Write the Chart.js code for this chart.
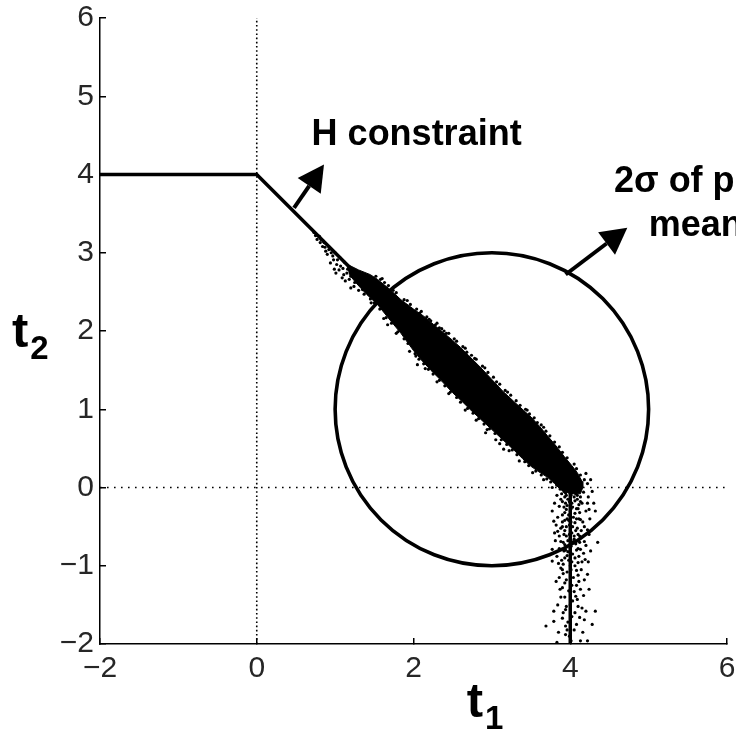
<!DOCTYPE html>
<html>
<head>
<meta charset="utf-8">
<script src="https://cdn.jsdelivr.net/npm/chart.js@4/dist/chart.umd.min.js"></script>
<style>
  html, body { margin: 0; padding: 0; background: #fff; }
  #wrap { width: 736px; height: 729px; }
</style>
</head>
<body>
<div id="wrap"><canvas id="chart"></canvas></div>
<script>
// axes
const t1Ticks = [-2, 0, 2, 4, 6];
const t2Ticks = [-2, -1, 0, 1, 2, 3, 4, 5, 6];

// H constraint boundary
const constraintT1 = [-2, 0, 4, 4];
const constraintT2 = [4, 4, 0, -2];

// prior mean and 2 sigma radius
const priorMean = [3, 1];
const priorRadius = 2;

// outline of the dense part of the sample cloud
const coreOutline = [
  [1.14, 2.86], [1.30, 2.78], [1.45, 2.72], [1.54, 2.66], [1.70, 2.53], [1.84, 2.40],
  [2.00, 2.28], [2.13, 2.19], [2.26, 2.08], [2.38, 1.98], [2.50, 1.88], [2.60, 1.79],
  [2.70, 1.69], [2.85, 1.54], [3.00, 1.38], [3.14, 1.23], [3.28, 1.10], [3.40, 0.99],
  [3.50, 0.90], [3.61, 0.78], [3.71, 0.66], [3.82, 0.53], [3.92, 0.40], [4.02, 0.28],
  [4.09, 0.19], [4.15, 0.08], [4.16, 0.00], [4.13, -0.08],
  [4.00, -0.08], [3.88, -0.03], [3.80, 0.05], [3.71, 0.13], [3.60, 0.20], [3.50, 0.27],
  [3.39, 0.37], [3.28, 0.48], [3.14, 0.61], [3.00, 0.74], [2.86, 0.87], [2.73, 0.99],
  [2.62, 1.10], [2.50, 1.21], [2.36, 1.36], [2.22, 1.50], [2.10, 1.63], [2.00, 1.75],
  [1.84, 1.97], [1.70, 2.14], [1.54, 2.34], [1.40, 2.47], [1.28, 2.60], [1.18, 2.72]
];

// single samples around the dense part
const samples = [
  // start of the cloud, along the constraint
  [0.73, 3.26], [0.77, 3.17], [0.80, 3.21], [0.82, 3.17], [0.84, 3.08], [0.86, 3.13],
  [0.88, 3.02], [0.92, 3.04], [0.94, 2.87], [0.97, 2.96], [0.99, 2.79], [1.01, 2.74],
  [1.03, 2.91], [1.07, 2.83], [1.09, 2.68], [1.11, 2.72], [1.16, 2.79], [1.20, 2.70],
  [1.20, 2.55], [1.24, 2.57], [1.31, 2.64], [1.35, 2.53], [1.41, 2.55], [1.48, 2.45],
  [0.78, 3.22], [0.85, 3.15], [0.92, 3.08], [1.00, 3.00], [1.06, 2.94], [1.12, 2.88],
  [0.75, 3.22], [0.81, 3.13], [0.87, 3.07], [0.90, 2.98], [0.95, 3.00], [0.98, 2.91],
  [1.02, 2.85], [1.05, 2.78], [1.10, 2.80], [1.13, 2.64], [1.15, 2.74], [1.18, 2.66],
  [1.22, 2.73], [1.25, 2.62], [1.28, 2.68], [1.30, 2.52], [1.33, 2.60], [1.37, 2.47],
  [1.39, 2.57], [1.43, 2.50], [1.45, 2.41],
  // upper edge of the band
  [1.60, 2.67], [1.92, 2.39], [2.10, 2.25], [2.30, 2.10], [2.45, 1.97], [2.66, 1.78],
  [2.80, 1.64], [2.95, 1.47], [3.10, 1.32], [3.24, 1.18], [3.45, 0.99], [3.66, 0.77],
  [3.86, 0.52], [4.05, 0.30], [4.18, 0.10], [2.39, 2.00], [2.28, 2.08], [2.22, 2.13],
  [1.52, 2.70], [1.58, 2.66], [1.63, 2.62], [1.68, 2.58], [1.74, 2.52], [1.78, 2.49],
  [1.88, 2.40], [1.96, 2.34], [2.04, 2.28], [2.08, 2.23], [2.17, 2.18], [2.20, 2.15],
  [2.33, 2.04], [2.36, 2.03], [2.42, 1.97], [2.52, 1.90], [2.55, 1.87], [2.63, 1.80],
  [2.68, 1.73], [2.74, 1.69], [2.78, 1.65], [2.88, 1.55], [2.91, 1.53], [3.02, 1.41],
  [3.06, 1.35], [3.17, 1.24], [3.20, 1.22], [3.31, 1.11], [3.36, 1.05], [3.43, 1.00],
  [3.48, 0.94], [3.54, 0.89], [3.63, 0.80], [3.69, 0.72], [3.74, 0.66], [3.80, 0.58],
  [3.90, 0.45], [3.96, 0.38], [4.08, 0.24], [4.13, 0.16], [3.58, 0.83], [3.77, 0.55],
  // lower edge of the band
  [1.67, 2.08], [2.03, 1.68], [2.05, 1.57], [2.94, 0.74], [3.05, 0.61], [3.15, 0.49],
  [3.28, 0.51], [1.46, 2.36], [1.62, 2.16], [1.78, 1.97], [1.95, 1.74], [2.15, 1.52],
  [2.30, 1.35], [2.45, 1.20], [2.66, 0.99], [2.80, 0.86], [2.92, 0.70], [3.10, 0.56],
  [3.22, 0.47], [3.35, 0.34], [3.52, 0.19], [3.66, 0.10], [3.77, 0.00],
  [1.50, 2.36], [1.57, 2.28], [1.65, 2.17], [1.72, 2.10], [1.80, 1.99], [1.88, 1.90],
  [1.93, 1.84], [2.02, 1.71], [2.07, 1.64], [2.13, 1.58], [2.19, 1.51], [2.25, 1.45],
  [2.33, 1.37], [2.40, 1.30], [2.47, 1.22], [2.55, 1.15], [2.60, 1.09], [2.69, 1.01],
  [2.76, 0.95], [2.83, 0.88], [2.90, 0.81], [2.97, 0.75], [3.04, 0.69], [3.12, 0.61],
  [3.19, 0.55], [3.26, 0.48], [3.32, 0.42], [3.42, 0.33], [3.47, 0.28], [3.56, 0.21],
  [3.63, 0.16], [3.70, 0.11], [3.75, 0.07], [3.83, 0.03], [3.87, -0.02],
  // tail below t2 = 0
  [4.26, 0.10], [4.24, -0.28], [4.32, -0.30], [3.77, -0.30], [3.79, -0.43], [3.84, -0.56],
  [4.22, -0.54], [4.18, -0.69], [3.88, -0.69], [3.77, -0.79], [4.26, -0.81], [3.92, -0.81],
  [4.13, -0.41], [4.09, -0.15], [3.94, -0.20], [3.98, -0.35], [3.90, -0.50], [4.05, -0.62],
  [4.01, -0.75], [4.13, -0.79], [3.88, -1.03], [4.22, -1.11], [3.86, -1.15], [4.11, -1.20],
  [3.90, -1.28], [4.13, -1.30], [4.07, -1.39], [3.84, -1.50], [4.15, -1.54], [4.20, -1.58],
  [4.32, -1.58], [3.94, -1.56], [3.90, -1.67], [3.79, -1.71], [3.69, -1.77], [3.94, -1.77],
  [3.94, -1.88], [4.13, -1.96], [4.22, -1.96], [4.18, -1.69], [4.09, -1.43], [3.77, -0.94],
  [3.95, -0.10], [4.05, -0.12], [3.92, -0.25], [4.08, -0.27], [4.00, -0.30], [3.96, -0.40],
  [4.06, -0.45], [3.93, -0.55], [4.02, -0.58], [4.10, -0.60], [3.97, -0.68], [4.07, -0.72],
  [3.94, -0.80], [4.03, -0.85], [4.11, -0.88], [3.98, -0.93], [3.91, -0.98], [4.06, -1.00],
  [3.96, -1.08], [4.04, -1.15], [3.93, -1.22], [4.08, -1.25], [3.98, -1.32], [4.03, -1.45],
  [3.95, -1.52], [4.06, -1.60], [3.97, -1.72], [4.05, -1.82], [3.99, -1.90], [4.15, -0.20],
  [3.88, -0.15], [4.18, -0.50], [3.86, -0.62], [4.14, -1.05], [3.88, -1.40],
  [3.92, -0.05], [4.00, -0.05], [4.10, -0.05], [3.97, -0.15], [4.02, -0.20], [4.12, -0.32],
  [3.90, -0.35], [4.04, -0.38], [3.99, -0.48], [4.09, -0.52], [3.95, -0.62], [4.00, -0.65],
  [4.22, 0.05], [4.28, -0.05], [4.20, 0.18],
  [3.89, -0.08], [3.93, -0.12], [4.01, -0.10], [4.07, -0.08], [4.13, -0.12], [4.17, -0.06],
  [3.86, -0.24], [3.95, -0.28], [4.03, -0.25], [4.11, -0.22], [4.20, -0.30], [3.84, -0.38],
  [3.93, -0.42], [4.08, -0.40], [4.16, -0.44], [3.82, -0.48], [3.88, -0.52], [4.03, -0.50],
  [4.14, -0.55], [4.24, -0.60], [3.81, -0.68], [3.91, -0.70], [4.04, -0.69], [4.12, -0.70],
  [4.20, -0.74], [3.86, -0.78], [3.97, -0.82], [4.08, -0.80], [4.17, -0.84], [3.83, -0.88],
  [3.93, -0.90], [4.02, -0.95], [4.10, -0.96], [4.19, -0.92], [3.85, -0.97],
  [3.91, -1.10], [4.01, -1.05], [4.10, -1.12], [4.18, -1.18], [3.95, -1.18], [4.02, -1.25],
  [3.87, -1.30], [4.05, -1.33], [4.17, -1.38], [3.93, -1.40], [4.00, -1.50], [4.10, -1.52],
  [3.91, -1.60], [4.02, -1.65], [4.12, -1.66], [3.96, -1.82], [4.08, -1.75], [3.85, -1.85],
  [4.01, -1.96],
  [3.91, -0.02], [3.98, -0.03], [4.04, -0.02], [4.12, -0.02], [3.94, -0.07], [4.02, -0.07],
  [4.09, -0.10], [3.90, -0.18], [3.99, -0.18], [4.06, -0.17], [4.13, -0.18], [3.96, -0.23],
  [4.01, -0.27], [4.10, -0.27], [3.93, -0.32], [4.06, -0.33], [3.98, -0.42], [4.11, -0.40],
  [3.90, -0.44], [4.01, -0.44], [3.95, -0.50], [4.07, -0.55], [3.92, -0.60], [4.12, -0.62],
  [3.99, -0.60], [4.05, -0.66], [3.93, -0.73], [4.00, -0.78], [4.10, -0.78], [3.96, -0.87],
  [4.06, -0.90], [3.89, -0.93], [4.15, -0.95], [4.00, -1.00], [3.90, -1.05], [4.08, -1.06],
  [3.80, -0.20], [3.83, -0.10], [4.22, -0.20], [4.25, -0.40], [3.80, -0.58], [4.23, -0.95],
  [3.82, -1.20], [4.24, -1.30], [3.79, -1.58], [4.28, -1.75], [4.16, -1.85], [3.83, -1.98],
  [4.23, -0.12], [4.30, -0.20], [4.35, -0.70]
];

// annotation arrows and text
const arrowFrom = [[0.476, 3.574], [3.941, 2.722]];
const arrowTo = [[0.858, 4.128], [4.728, 3.319]];
const noteText = ["H constraint", "2\u03c3 of prior", "mean"];
const notePos = [[0.70, 4.383], [4.558, 3.774], [5.0, 3.21]];

const FONT = "'Liberation Sans', Arial, Helvetica, sans-serif";
const pts = arr => arr.map(p => ({ x: p[0], y: p[1] }));
const minus = v => String(v).replace("-", "\u2212");

function drawArrow(ctx, x0, y0, x1, y1) {
  const ang = Math.atan2(y1 - y0, x1 - x0);
  const head = 26, half = 14;
  const bx = x1 - head * Math.cos(ang), by = y1 - head * Math.sin(ang);
  ctx.beginPath();
  ctx.moveTo(x0, y0);
  ctx.lineTo(bx, by);
  ctx.lineWidth = 4;
  ctx.stroke();
  ctx.beginPath();
  ctx.moveTo(x1, y1);
  ctx.lineTo(bx + half * Math.sin(ang), by - half * Math.cos(ang));
  ctx.lineTo(bx - half * Math.sin(ang), by + half * Math.cos(ang));
  ctx.closePath();
  ctx.fill();
}

function drawSubLabel(ctx, main, sub, x, y) {
  ctx.font = "bold 49px " + FONT;
  ctx.fillText(main, x, y);
  const w = ctx.measureText(main).width;
  ctx.font = "bold 33px " + FONT;
  ctx.fillText(sub, x + w + 2, y + 12);
}

const overlay = {
  id: "overlay",
  afterDatasetsDraw(chart) {
    const { ctx, chartArea, scales: { x, y } } = chart;
    ctx.save();
    ctx.strokeStyle = "#000";
    ctx.fillStyle = "#000";

    // 2 sigma circle around the prior mean
    const cx = x.getPixelForValue(priorMean[0]);
    const cy = y.getPixelForValue(priorMean[1]);
    const rx = x.getPixelForValue(priorMean[0] + priorRadius) - cx;
    const ry = cy - y.getPixelForValue(priorMean[1] + priorRadius);
    ctx.beginPath();
    ctx.ellipse(cx, cy, rx, ry, 0, 0, Math.PI * 2);
    ctx.lineWidth = 3.6;
    ctx.stroke();

    arrowFrom.forEach((a, i) => {
      drawArrow(ctx, x.getPixelForValue(a[0]), y.getPixelForValue(a[1]),
        x.getPixelForValue(arrowTo[i][0]), y.getPixelForValue(arrowTo[i][1]));
    });

    ctx.textAlign = "left";
    ctx.textBaseline = "alphabetic";
    ctx.font = "bold 36px " + FONT;
    noteText.forEach((t, i) => {
      ctx.fillText(t, x.getPixelForValue(notePos[i][0]), y.getPixelForValue(notePos[i][1]));
    });

    // axis titles
    drawSubLabel(ctx, "t", "1", x.getPixelForValue(2.68), chartArea.bottom + 73);
    drawSubLabel(ctx, "t", "2", chartArea.left - 88, y.getPixelForValue(1.80));
    ctx.restore();
  }
};

new Chart(document.getElementById("chart"), {
  type: "scatter",
  data: {
    datasets: [
      {
        data: pts(coreOutline),
        showLine: true,
        fill: "shape",
        backgroundColor: "#000",
        borderColor: "#000",
        borderWidth: 1,
        pointRadius: 0,
        order: 2
      },
      {
        data: pts(samples),
        pointRadius: 1.6,
        pointBackgroundColor: "#000",
        pointBorderWidth: 0,
        order: 1
      },
      {
        data: constraintT1.map((v, i) => ({ x: v, y: constraintT2[i] })),
        showLine: true,
        borderColor: "#000",
        borderWidth: 3.5,
        pointRadius: 0,
        order: 3
      },
      {
        data: [{ x: 0, y: -2 }, { x: 0, y: 6 }],
        showLine: true,
        borderColor: "#000",
        borderWidth: 1.6,
        borderDash: [1.6, 2.6],
        pointRadius: 0,
        order: 4
      },
      {
        data: [{ x: -2, y: 0 }, { x: 6, y: 0 }],
        showLine: true,
        borderColor: "#000",
        borderWidth: 1.6,
        borderDash: [1.6, 5.4],
        pointRadius: 0,
        order: 4
      }
    ]
  },
  options: {
    responsive: true,
    maintainAspectRatio: false,
    animation: false,
    layout: { padding: { top: 18, right: 9, left: 0, bottom: 0 } },
    plugins: { legend: { display: false }, tooltip: { enabled: false } },
    scales: {
      x: {
        type: "linear",
        min: -2,
        max: 6,
        afterBuildTicks: s => { s.ticks = t1Ticks.map(v => ({ value: v })); },
        afterFit: s => { s.height = 85; s.paddingLeft = 0; s.paddingRight = 0; },
        grid: { drawOnChartArea: false, tickLength: -6, color: "#000", lineWidth: 1.5 },
        border: { color: "#000", width: 1.5 },
        ticks: { padding: 13, color: "#262626", font: { family: FONT, size: 30 }, callback: minus }
      },
      y: {
        type: "linear",
        min: -2,
        max: 6,
        afterBuildTicks: s => { s.ticks = t2Ticks.map(v => ({ value: v })); },
        afterFit: s => { s.width = 100; s.paddingTop = 0; s.paddingBottom = 0; },
        grid: { drawOnChartArea: false, tickLength: -6, color: "#000", lineWidth: 1.5 },
        border: { color: "#000", width: 1.5 },
        ticks: { padding: 12, color: "#262626", font: { family: FONT, size: 30 }, callback: minus }
      }
    }
  },
  plugins: [overlay]
});
</script>
</body>
</html>
